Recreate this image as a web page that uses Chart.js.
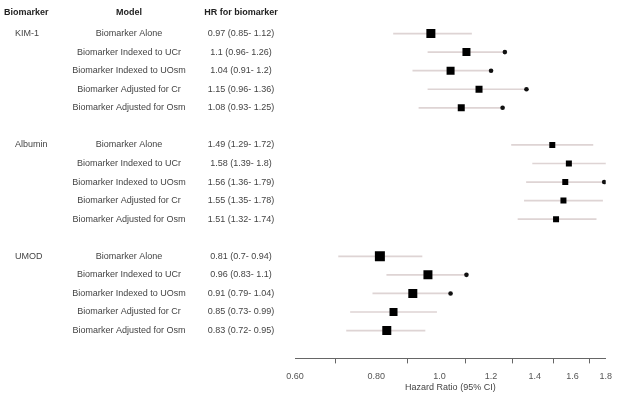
<!DOCTYPE html>
<html>
<head>
<meta charset="utf-8">
<script src="https://cdn.jsdelivr.net/npm/chart.js@4"></script>
<style>
  body { margin: 0; background: #fff; }
  #wrap { width: 620px; height: 395px; }
</style>
</head>
<body>
<div id="wrap"><canvas id="forest" width="620" height="395"></canvas></div>
<script>
// Table / plot data
const groups = ['KIM-1', 'Albumin', 'UMOD'];
const models = [
    'Biomarker Alone',
    'Biomarker Indexed to UCr',
    'Biomarker Indexed to UOsm',
    'Biomarker Adjusted for Cr',
    'Biomarker Adjusted for Osm'
];
const hrValues = [0.97, 1.1, 1.04, 1.15, 1.08, 1.49, 1.58, 1.56, 1.55, 1.51, 0.81, 0.96, 0.91, 0.85, 0.83];
const ciLow = [0.85, 0.96, 0.91, 0.96, 0.93, 1.29, 1.39, 1.36, 1.35, 1.32, 0.7, 0.83, 0.79, 0.73, 0.72];
const ciHigh = [1.12, 1.26, 1.2, 1.36, 1.25, 1.72, 1.8, 1.79, 1.78, 1.74, 0.94, 1.1, 1.04, 0.99, 0.95];
const hrLabels = [
    '0.97 (0.85- 1.12)', '1.1 (0.96- 1.26)', '1.04 (0.91- 1.2)', '1.15 (0.96- 1.36)', '1.08 (0.93- 1.25)',
    '1.49 (1.29- 1.72)', '1.58 (1.39- 1.8)', '1.56 (1.36- 1.79)', '1.55 (1.35- 1.78)', '1.51 (1.32- 1.74)',
    '0.81 (0.7- 0.94)', '0.96 (0.83- 1.1)', '0.91 (0.79- 1.04)', '0.85 (0.73- 0.99)', '0.83 (0.72- 0.95)'
];
// square size (px side) per row, roughly as drawn
const boxSizes = [9, 8, 8, 7, 7, 6, 6, 6, 6, 6, 10, 9, 9, 8, 9];
// rows that carry a small dot at the upper CI end
const dotRows = [1, 2, 3, 4, 7, 11, 12];
const tickValues = [0.6, 0.8, 1.0, 1.2, 1.4, 1.6, 1.8];
const tickLabels = ['0.60', '0.80', '1.0', '1.2', '1.4', '1.6', '1.8'];

// each group takes 5 rows plus a blank spacer row
function rowOf(i) {
    return Math.floor(i / models.length) * (models.length + 1) + (i % models.length);
}

const ciData = hrValues.map((v, i) => ({ y: rowOf(i), x: [ciLow[i], ciHigh[i]] }));
const boxData = hrValues.map((v, i) => ({ x: v, y: rowOf(i) }));
const dotData = dotRows.map(i => ({ x: ciHigh[i], y: rowOf(i) }));

// Draws the left-hand table using the y scale positions
const tablePlugin = {
    id: 'tableText',
    afterDraw(chart) {
        const ctx = chart.ctx;
        const y = chart.scales.y;
        ctx.save();
        ctx.textBaseline = 'middle';

        ctx.fillStyle = '#222';
        ctx.font = 'bold 9px "Liberation Sans", Arial, sans-serif';
        const hy = y.getPixelForValue(-1) - 2;
        ctx.textAlign = 'left';
        ctx.fillText('Biomarker', 4, hy);
        ctx.textAlign = 'center';
        ctx.fillText('Model', 129, hy);
        ctx.fillText('HR for biomarker', 241, hy);

        ctx.fillStyle = '#444';
        ctx.font = '9px "Liberation Sans", Arial, sans-serif';
        groups.forEach((g, gi) => {
            ctx.textAlign = 'left';
            ctx.fillText(g, 15, y.getPixelForValue(gi * (models.length + 1)));
        });
        hrValues.forEach((v, i) => {
            const py = y.getPixelForValue(rowOf(i));
            ctx.textAlign = 'center';
            ctx.fillText(models[i % models.length], 129, py);
            ctx.fillText(hrLabels[i], 241, py);
        });
        ctx.restore();
    }
};

new Chart(document.getElementById('forest'), {
    type: 'bar',
    data: {
        datasets: [
            {
                type: 'bar',
                indexAxis: 'y',
                data: ciData,
                backgroundColor: 'rgba(190, 170, 170, 0.5)',
                barThickness: 1,
                order: 3
            },
            {
                type: 'scatter',
                data: boxData,
                pointStyle: 'rect',
                pointRadius: boxSizes.map(s => s / Math.SQRT2),
                backgroundColor: '#000',
                borderWidth: 0,
                order: 1
            },
            {
                type: 'scatter',
                data: dotData,
                pointStyle: 'circle',
                pointRadius: 2.3,
                backgroundColor: '#111',
                borderWidth: 0,
                order: 2
            }
        ]
    },
    options: {
        responsive: false,
        animation: false,
        layout: { padding: { left: 295, right: 7, top: 15, bottom: 0 } },
        plugins: {
            legend: { display: false },
            tooltip: { enabled: false }
        },
        scales: {
            x: {
                type: 'logarithmic',
                min: 0.6,
                max: 1.8,
                afterBuildTicks: scale => {
                    scale.ticks = tickValues.map(v => ({ value: v }));
                },
                ticks: {
                    autoSkip: false,
                    maxRotation: 0,
                    padding: 8,
                    color: '#555',
                    font: { size: 9, family: '"Liberation Sans", Arial, sans-serif' },
                    callback: (val, idx) => tickLabels[idx]
                },
                grid: { drawOnChartArea: false, drawTicks: true, tickLength: 5, color: '#666' },
                border: { display: true, color: '#666' },
                title: {
                    display: true,
                    text: 'Hazard Ratio (95% CI)',
                    color: '#444',
                    font: { size: 9, family: '"Liberation Sans", Arial, sans-serif' },
                    padding: { top: -8, bottom: 2 }
                }
            },
            y: {
                type: 'linear',
                display: false,
                reverse: true,
                offset: false,
                min: -1,
                max: 17.5
            }
        }
    },
    plugins: [tablePlugin]
});
</script>
</body>
</html>
